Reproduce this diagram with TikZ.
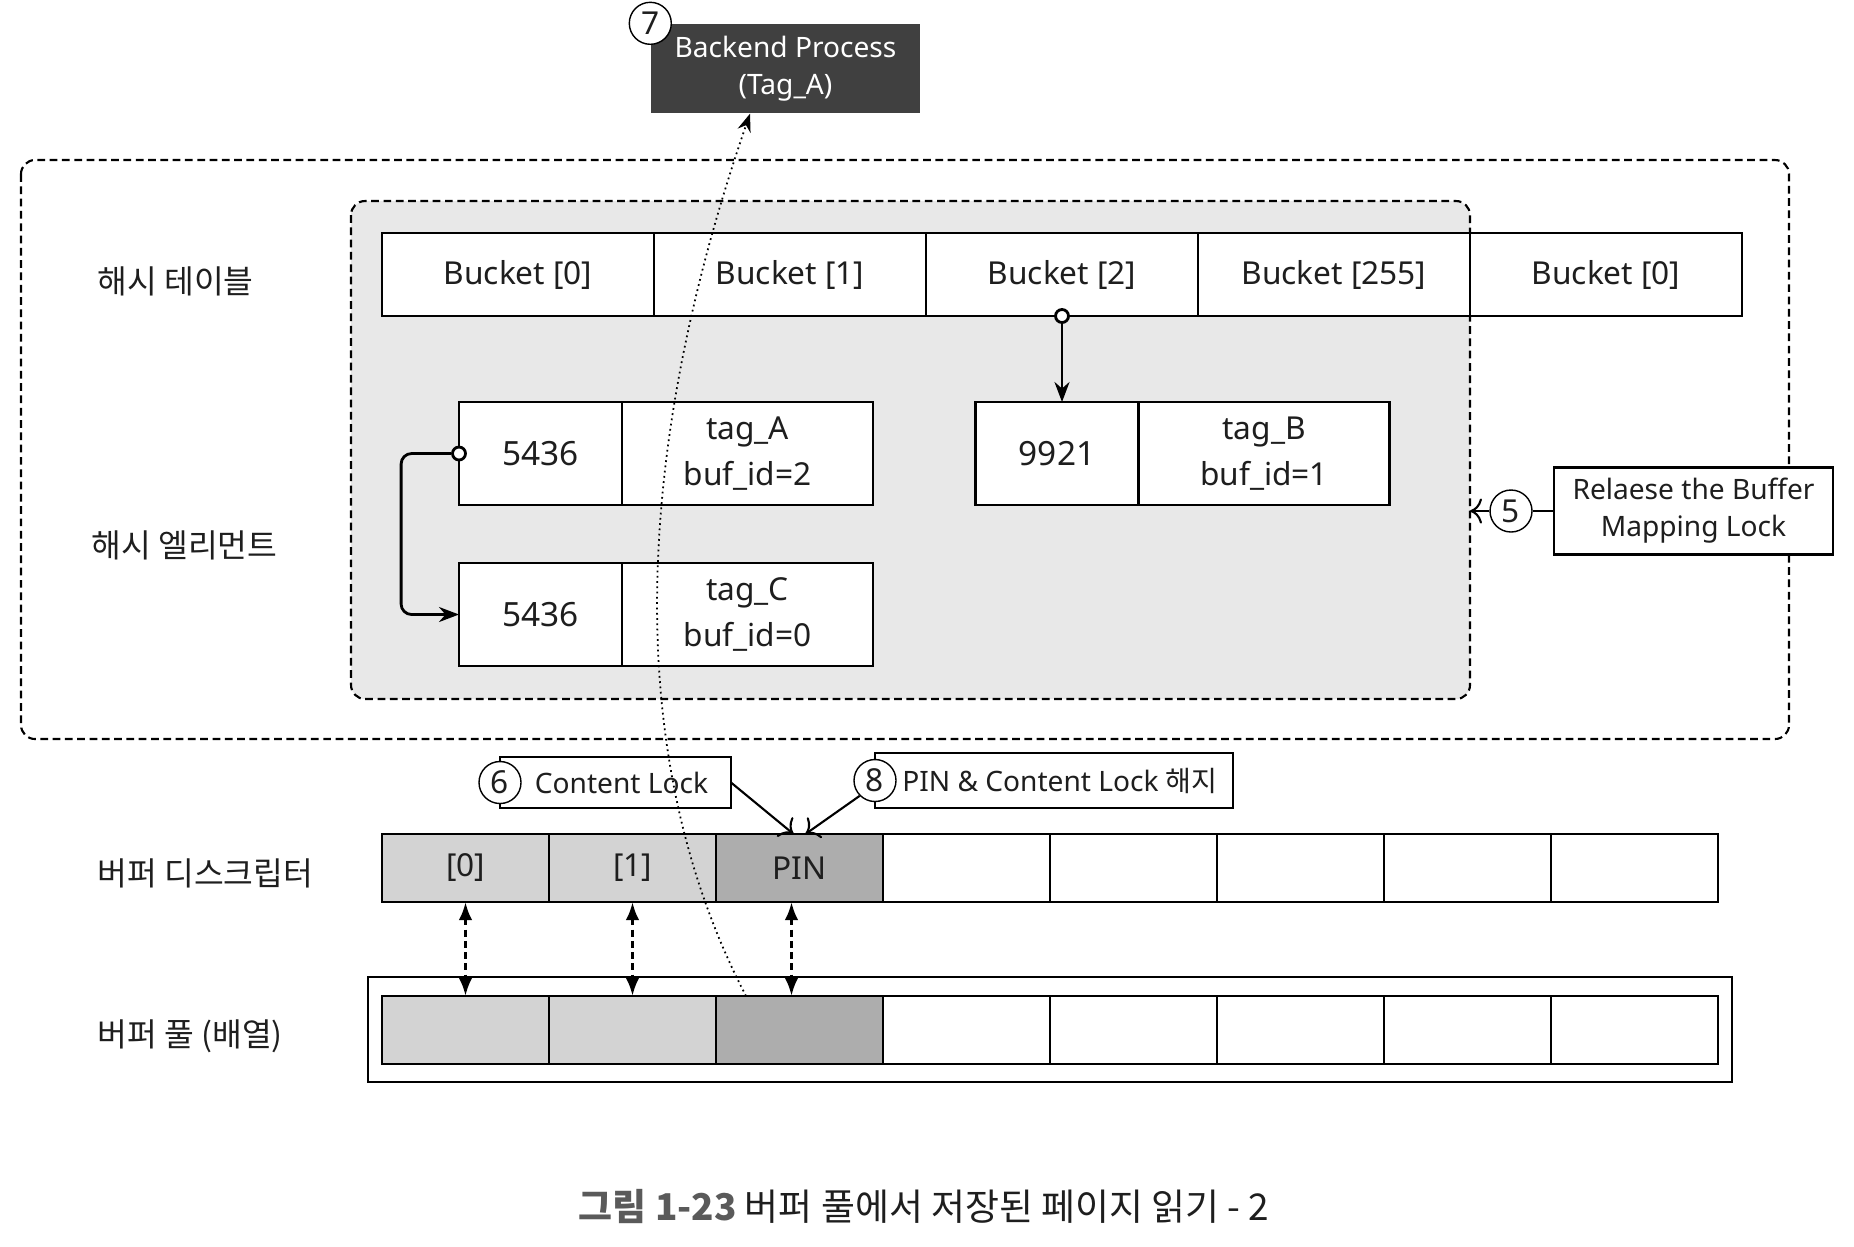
\documentclass[tikz,border=0pt]{standalone}
\usepackage{fontspec}
\setmainfont{Noto Sans}
\newfontfamily\kr{Noto Sans CJK KR}
\usetikzlibrary{arrows.meta}

\definecolor{shade}{HTML}{E8E8E8}
\definecolor{cellgray}{HTML}{D3D3D3}
\definecolor{pingray}{HTML}{ADADAD}
\definecolor{procgray}{HTML}{404040}
\definecolor{capgray}{HTML}{5A5A5A}
\definecolor{ink}{HTML}{1E1E1E}

\begin{document}
\begin{tikzpicture}[
	every node/.style={font=\fontsize{9}{11}\selectfont, text=ink},
	bucket/.style={draw, thick, fill=white, minimum width=2.72cm, minimum height=0.83cm, inner sep=0pt, outer sep=0pt},
	elemkey/.style={draw, thick, fill=white, minimum width=1.63cm, minimum height=1.03cm, inner sep=0pt, outer sep=0pt, font=\fontsize{9.5}{11}\selectfont},
	elemtag/.style={draw, thick, fill=white, minimum width=2.51cm, minimum height=1.03cm, inner sep=0pt, outer sep=0pt, align=center, font=\fontsize{9}{13}\selectfont},
	cell/.style={draw, thick, fill=white, minimum width=1.67cm, minimum height=0.68cm, inner sep=0pt, outer sep=0pt},
	num/.style={circle, draw, fill=white, minimum size=0.42cm, inner sep=0pt, font=\fontsize{9}{11}\selectfont},
	callout/.style={draw, line width=0.6pt, fill=white, inner sep=0pt, outer sep=0pt, align=center, font=\fontsize{8}{10.5}\selectfont},
	rowlabel/.style={anchor=west, inner sep=0pt, font={\kr\fontsize{9.2}{11}\selectfont}},
	hole/.style={circle, draw, thick, fill=white, minimum size=0.13cm, inner sep=0pt},
	region/.style={line width=0.6pt, dash pattern=on 2.2pt off 1.3pt, rounded corners=4pt},
	link/.style={line width=0.9pt, dash pattern=on 2pt off 1.2pt, {Latex[length=1.8mm]}-{Latex[length=1.8mm]}}
	]
	
	\useasboundingbox (0,0) rectangle (18.54,-12.46);
	
	% shared memory regions
	\draw[region] (0.21,-1.60) rectangle (17.89,-7.39);
	\draw[region, fill=shade] (3.51,-2.01) rectangle (14.70,-6.99);
	
	% backend process
	\node[fill=procgray, minimum width=2.69cm, minimum height=0.89cm, align=center, text=white, font=\fontsize{8}{10.5}\selectfont] (bp) at (7.855,-0.685) {Backend Process\\(Tag\_A)};
	\node[num] (n7) at (bp.north west) {7};
	
	% hash table
	\node[rowlabel] (ht) at (0.97,-2.81) {해시 테이블};
	\node[bucket] (b0) at (5.18,-2.745) {Bucket [0]};
	\node[bucket] (b1) at (7.90,-2.745) {Bucket [1]};
	\node[bucket] (b2) at (10.62,-2.745) {Bucket [2]};
	\node[bucket] (b255) at (13.34,-2.745) {Bucket [255]};
	\node[bucket] (bz) at (16.06,-2.745) {Bucket [0]};
	
	% hash elements
	\node[rowlabel] (he) at (0.91,-5.45) {해시 엘리먼트};
	\node[elemkey] (e1) at (5.405,-4.535) {5436};
	\node[elemtag, anchor=west] (e1t) at (e1.east) {tag\_A\\buf\_id=2};
	\node[elemkey] (e2) at (5.405,-6.145) {5436};
	\node[elemtag, anchor=west] (e2t) at (e2.east) {tag\_C\\buf\_id=0};
	\node[elemkey] (e3) at (10.57,-4.535) {9921};
	\node[elemtag, anchor=west] (e3t) at (e3.east) {tag\_B\\buf\_id=1};
	
	% bucket -> element, element -> next element
	\node[hole] (h2) at (b2.south) {};
	\draw[thick, -{Stealth[length=2mm]}] (h2) -- (h2 |- e3.north);
	\node[hole] (h1) at (e1.west) {};
	\draw[thick, rounded corners=3pt, -{Stealth[length=2mm]}] (h1.west) -- ++(-0.5,0) |- (e2.west);
	
	% step 5
	\coordinate (gr) at (14.70,-5.11);
	\node[callout, minimum width=2.79cm, minimum height=0.87cm] (c5) at (16.935,-5.11) {Relaese the Buffer\\Mapping Lock};
	\node[num] (n5) at (15.11,-5.11) {5};
	\draw[line width=0.6pt, -{To[length=1.2mm]}] (n5) -- (gr);
	\draw[line width=0.6pt] (n5) -- (c5);
	
	% steps 6 and 8
	\node[callout, minimum width=2.31cm, minimum height=0.51cm] (c6) at (6.155,-7.825) {\hspace{0.12cm}Content Lock};
	\node[num] (n6) at (c6.west) {6};
	\node[callout, minimum width=3.58cm, minimum height=0.55cm] (c8) at (10.54,-7.805) {\hspace{0.12cm}PIN \& Content Lock {\kr 해지}};
	\node[num] (n8) at (c8.west) {8};
	
	% buffer descriptors
	\node[rowlabel] (bd) at (0.97,-8.73) {버퍼 디스크립터};
	\node[cell, fill=cellgray] (d0) at (4.655,-8.68) {[0]};
	\node[cell, fill=cellgray] (d1) at (6.325,-8.68) {[1]};
	\node[cell, fill=pingray] (d2) at (7.995,-8.68) {PIN};
	\node[cell] (d3) at (9.665,-8.68) {};
	\node[cell] (d4) at (11.335,-8.68) {};
	\node[cell] (d5) at (13.005,-8.68) {};
	\node[cell] (d6) at (14.675,-8.68) {};
	\node[cell] (d7) at (16.345,-8.68) {};
	
	% buffer pool (array)
	\draw[line width=0.6pt] (3.68,-9.77) rectangle (17.32,-10.82);
	\node[rowlabel] (bpl) at (0.97,-10.36) {버퍼 풀 (배열)};
	\node[cell, fill=cellgray] (p0) at (4.655,-10.30) {};
	\node[cell, fill=cellgray] (p1) at (6.325,-10.30) {};
	\node[cell, fill=pingray] (p2) at (7.995,-10.30) {};
	\node[cell] (p3) at (9.665,-10.30) {};
	\node[cell] (p4) at (11.335,-10.30) {};
	\node[cell] (p5) at (13.005,-10.30) {};
	\node[cell] (p6) at (14.675,-10.30) {};
	\node[cell] (p7) at (16.345,-10.30) {};
	
	% descriptor <-> page slot
	\draw[link] (d0) -- (p0);
	\draw[link] (d1) -- (p1);
	\draw[link] ([xshift=-0.8mm]d2.south) -- ([xshift=-0.8mm]p2.north);
	
	% pointers to the pinned descriptor
	\draw[line width=0.6pt, -{To[length=1.2mm]}] (c6.east) -- ([xshift=-0.6mm]d2.north);
	\draw[line width=0.6pt, -{To[length=1.2mm]}] (n8.225) -- ([xshift=0.6mm]d2.north);
	
	% page read back by the backend
	\draw[densely dotted, line width=0.5pt, -{Stealth[length=1.8mm]}] ([xshift=-5.35mm]p2.north) .. controls (6.20,-7.54) and (6.35,-4.47) .. ([xshift=-3.55mm]bp.south);
	
	% caption
	\node (cap) at (9.24,-12.06) {\kr\fontsize{10.5}{12}\selectfont{\bfseries\color{capgray}그림 1-23} 버퍼 풀에서 저장된 페이지 읽기 - 2};
	
\end{tikzpicture}
\end{document}
